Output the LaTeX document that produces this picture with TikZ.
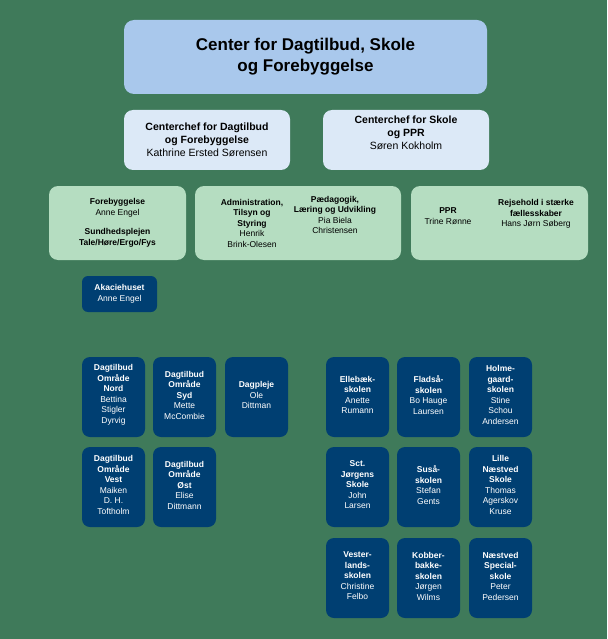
\documentclass[tikz,border=0pt]{standalone}
\usepackage{fontspec}
\setmainfont{Liberation Sans}
\definecolor{bg}{HTML}{3F7A5A}
\definecolor{topc}{HTML}{A9C8EC}
\definecolor{lvtwo}{HTML}{DCE9F7}
\definecolor{lvthree}{HTML}{B5DDC1}
\definecolor{dark}{HTML}{003F72}
\begin{document}
\begin{tikzpicture}[x=1pt,y=-1pt,
 box/.style={rounded corners=9pt,inner sep=0pt,align=center},
 dk/.style={draw=none,fill=dark,rounded corners=8pt,text=white,font=\fontsize{8.5}{10.5}\selectfont,align=center},
 lt/.style={font=\fontsize{8.5}{10.5}\selectfont,align=center,text=black}]
\fill[bg] (0,0) rectangle (607,639);
\useasboundingbox (0,0) rectangle (607,639);
% top
\fill[topc,rounded corners=10pt] (124,20) rectangle (487,94);
\node[font=\fontsize{17}{21}\selectfont\bfseries,align=center] (title) at (305.5,57) {Center for Dagtilbud, Skole\\og Forebyggelse};
\fill[lvtwo,rounded corners=9pt] (124,110) rectangle (290,170);
\node[font=\fontsize{10.5}{13}\selectfont,align=center] (c1) at (207,140) {\textbf{Centerchef for Dagtilbud}\\\textbf{og Forebyggelse}\\Kathrine Ersted Sørensen};
\fill[lvtwo,rounded corners=9pt] (323,110) rectangle (489,170);
\node[font=\fontsize{10.5}{13}\selectfont,align=center] (c2) at (406,133) {\textbf{Centerchef for Skole}\\\textbf{og PPR}\\Søren Kokholm};
% level 3
\fill[lvthree,rounded corners=9pt] (49,186) rectangle (186,260);
\fill[lvthree,rounded corners=9pt] (195,186) rectangle (401,260);
\fill[lvthree,rounded corners=9pt] (411,186) rectangle (588,260);
\node[lt] (fb) at (117.5,208) {\textbf{Forebyggelse}\\Anne Engel};
\node[lt] (sp) at (117.5,238) {\textbf{Sundhedsplejen}\\\textbf{Tale/Høre/Ergo/Fys}};
\node[lt] (adm) at (252,223) {\textbf{Administration,}\\\textbf{Tilsyn og}\\\textbf{Styring}\\Henrik\\Brink-Olesen};
\node[lt] (paed) at (335,215) {\textbf{Pædagogik,}\\\textbf{Læring og Udvikling}\\Pia Biela\\Christensen};
\node[lt] (ppr) at (448,216) {\textbf{PPR}\\Trine Rønne};
\node[lt] (rej) at (536,214) {\textbf{Rejsehold i stærke}\\\textbf{fællesskaber}\\Hans Jørn Søberg};
% Akaciehuset
\fill[dark,rounded corners=6pt] (82,276) rectangle (157,312);
\node[dk] (aka) at (119.5,294) {\textbf{Akaciehuset}\\Anne Engel};
% dark boxes
\foreach \x/\y/\n/\t in {
 82/357/dn/{\textbf{Dagtilbud}\\\textbf{Område}\\\textbf{Nord}\\Bettina\\Stigler\\Dyrvig},
 153/357/ds/{\textbf{Dagtilbud}\\\textbf{Område}\\\textbf{Syd}\\Mette\\McCombie},
 225/357/dp/{\textbf{Dagpleje}\\Ole\\Dittman},
 82/447/dv/{\textbf{Dagtilbud}\\\textbf{Område}\\\textbf{Vest}\\Maiken\\D. H.\\Toftholm},
 153/447/do/{\textbf{Dagtilbud}\\\textbf{Område}\\\textbf{Øst}\\Elise\\Dittmann},
 326/357/s1/{\textbf{Ellebæk-}\\\textbf{skolen}\\Anette\\Rumann},
 397/357/s2/{\textbf{Fladså-}\\\textbf{skolen}\\Bo Hauge\\Laursen},
 469/357/s3/{\textbf{Holme-}\\\textbf{gaard-}\\\textbf{skolen}\\Stine\\Schou\\Andersen},
 326/447/s4/{\textbf{Sct.}\\\textbf{Jørgens}\\\textbf{Skole}\\John\\Larsen},
 397/447/s5/{\textbf{Suså-}\\\textbf{skolen}\\Stefan\\Gents},
 469/447/s6/{\textbf{Lille}\\\textbf{Næstved}\\\textbf{Skole}\\Thomas\\Agerskov\\Kruse},
 326/538/s7/{\textbf{Vester-}\\\textbf{lands-}\\\textbf{skolen}\\Christine\\Felbo},
 397/538/s8/{\textbf{Kobber-}\\\textbf{bakke-}\\\textbf{skolen}\\Jørgen\\Wilms},
 469/538/s9/{\textbf{Næstved}\\\textbf{Special-}\\\textbf{skole}\\Peter\\Pedersen}}
{
 \fill[dark,rounded corners=8pt] (\x,\y) rectangle ++(63,80);
 \node[dk] (\n) at (\x+31.5,\y+38) {\t};
}
\end{tikzpicture}
\end{document}
